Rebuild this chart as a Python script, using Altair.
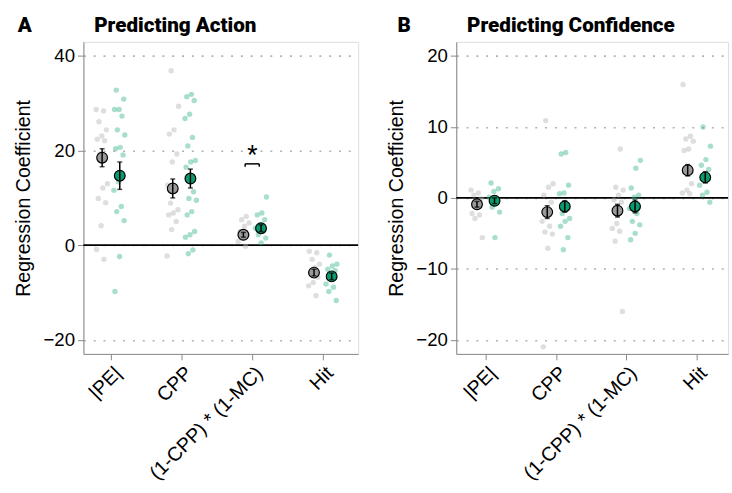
import altair as alt
import pandas as pd

CATS = ["|PE|", "CPP", "(1-CPP) * (1-MC)", "Hit"]
GROUPS = ["grey", "green"]

# ---------- Panel A: Predicting Action (individual coefficients) ----------
A_PE_grey = [28.7, 28.4, 26.1, 24.4, 23.1, 22.4, 22.1, 19.3, 13.0, 12.1, 9.9, 9.0, 4.1, -0.9, -3.0]
A_PE_green = [32.8, 30.9, 28.7, 28.7, 27.3, 24.4, 23.3, 20.7, 20.4, 19.1, 13.4, 11.6, 8.2, 7.1, 5.2, -2.4, -9.8]
A_CPP_grey = [36.9, 29.4, 24.4, 23.5, 19.3, 17.6, 12.7, 11.6, 8.9, 7.5, 6.8, 6.4, 5.0, 3.3, -2.3]
A_CPP_green = [31.9, 31.4, 30.6, 27.7, 26.8, 22.8, 21.0, 17.9, 17.6, 16.5, 11.3, 9.9, 9.5, 7.1, 6.4, 2.9, 2.2, 1.7, -1.0, -1.8]
A_INT_grey = [6.1, 5.4, 4.7, 4.0, 2.9, 2.2, 1.5, 0.8, -0.2]
A_INT_green = [10.2, 6.8, 6.4, 5.4, 4.3, 3.6, 2.9, 2.2, 1.5, 0.5]
A_HIT_grey = [-1.3, -1.6, -3.0, -4.0, -4.7, -5.8, -6.8, -7.9, -8.6, -10.7]
A_HIT_green = [-2.1, -4.0, -4.4, -5.1, -5.4, -6.8, -8.2, -8.9, -9.8, -11.7]
A_MEAN_grey = [18.5, 12.0, 2.2, -5.8]
A_SE_grey = [1.9, 2.0, 0.5, 0.7]
A_MEAN_green = [14.7, 14.1, 3.6, -6.6]
A_SE_green = [2.9, 2.0, 0.7, 0.7]

# ---------- Panel B: Predicting Confidence ----------
B_PE_grey = [1.1, 0.7, 0.4, -0.1, -1.0, -2.2, -2.4, -2.9, -5.6]
B_PE_green = [2.1, 1.3, 0.9, 0.1, -0.6, -1.3, -2.0, -5.6]
B_CPP_grey = [10.9, 2.0, 1.5, 0.4, -0.6, -2.0, -3.3, -4.0, -4.8, -5.1, -7.1, -21.0]
B_CPP_green = [6.4, 6.2, 1.8, 0.7, 0.6, -1.0, -2.2, -2.9, -3.3, -4.0, -5.6, -7.3]
B_INT_grey = [6.9, 1.5, 1.1, 0.4, -0.3, -0.6, -3.6, -4.3, -4.7, -6.1, -16.0]
B_INT_green = [5.3, 4.2, 1.4, 0.4, 0.1, -1.5, -2.2, -3.3, -3.8, -5.0, -5.9]
B_HIT_grey = [16.0, 8.7, 8.3, 8.0, 6.9, 6.7, 2.0, 1.1, 0.7, 0.6]
B_HIT_green = [10.0, 7.3, 5.4, 4.6, 4.0, 3.2, 1.8, 0.8, 0.4, -0.6]
B_MEAN_grey = [-0.9, -2.0, -1.8, 3.9]
B_SE_grey = [0.4, 0.9, 0.9, 0.8]
B_MEAN_green = [-0.4, -1.2, -1.2, 2.9]
B_SE_green = [0.4, 0.8, 0.9, 0.8]

# significance marker (panel A, interaction term)
SIG_CAT = 2
SIG_BRACKET_Y = 17.2
SIG_STAR_Y = 19.6

FONT = "Roboto"
GREY_PT = "#b5b5b5"
GREEN_PT = "#3fb58e"
GREY_MEAN = "#9a9a9a"
GREEN_MEAN = "#0b9a6f"


def build_points(lists):
    rows = []
    for ci, (g_list, gr_list) in enumerate(lists):
        for gi, vals in enumerate((g_list, gr_list)):
            for k, v in enumerate(vals):
                rows.append({"cat": ci, "group": GROUPS[gi], "gi": gi, "k": k, "value": v})
    return pd.DataFrame(rows)


def build_means(mg, sg, mgr, sgr):
    rows = []
    for ci in range(4):
        rows.append({"cat": ci, "group": "grey", "gi": 0, "mean": mg[ci], "lo": mg[ci] - sg[ci], "hi": mg[ci] + sg[ci]})
        rows.append({"cat": ci, "group": "green", "gi": 1, "mean": mgr[ci], "lo": mgr[ci] - sgr[ci], "hi": mgr[ci] + sgr[ci]})
    return pd.DataFrame(rows)


label_expr = "['|PE|','CPP','(1-CPP) * (1-MC)','Hit'][datum.value]"


def panel(pts, means, ydom, yticks, title, letter, xdom, width, letter_x, sig=False):
    xscale = alt.Scale(domain=xdom, nice=False, zero=False)
    yscale = alt.Scale(domain=ydom, nice=False, zero=False)
    xaxis = alt.Axis(values=[0, 1, 2, 3], labelExpr=label_expr, title=None, grid=False,
                     labelAngle=-45, labelAlign="right", labelBaseline="top",
                     labelFontSize=20, labelPadding=3, labelOverlap=False, tickSize=6)
    yaxis = alt.Axis(values=yticks, title="Regression Coefficient", grid=True,
                     gridDash=[2, 8], gridColor="#b0b0b0", gridWidth=1.6,
                     labelFontSize=19, titleFontSize=20, titleFontWeight="normal",
                     titlePadding=10, labelPadding=3, tickSize=6)
    color = alt.Color("group:N", scale=alt.Scale(domain=GROUPS, range=[GREY_PT, GREEN_PT]), legend=None)

    base_pts = alt.Chart(pts).transform_calculate(
        xpos="datum.cat + (datum.gi == 0 ? -0.125 : 0.125) + ((datum.k * 0.6180339 + datum.cat * 0.37 + datum.gi * 0.21) % 1 - 0.5) * 0.17"
    )
    points = base_pts.mark_circle(size=30, opacity=0.45).encode(
        x=alt.X("xpos:Q", scale=xscale, axis=xaxis),
        y=alt.Y("value:Q", scale=yscale, axis=yaxis),
        color=color,
    )
    zero = alt.Chart(pd.DataFrame({"z": [0]})).mark_rule(color="black", strokeWidth=1.8).encode(
        y=alt.Y("z:Q", scale=yscale)
    )
    base_m = alt.Chart(means).transform_calculate(
        xpos="datum.cat + (datum.gi == 0 ? -0.125 : 0.125)"
    )
    mean_pts = base_m.mark_point(filled=True, size=120, stroke="black", strokeWidth=1.2, opacity=1).encode(
        x=alt.X("xpos:Q", scale=xscale),
        y=alt.Y("mean:Q", scale=yscale),
        fill=alt.Fill("group:N", scale=alt.Scale(domain=GROUPS, range=[GREY_MEAN, GREEN_MEAN]), legend=None),
    )
    bars = base_m.mark_rule(color="black", strokeWidth=1.5).encode(
        x=alt.X("xpos:Q", scale=xscale), y=alt.Y("lo:Q", scale=yscale), y2="hi:Q"
    )
    cap_lo = base_m.mark_tick(orient="horizontal", size=5, thickness=1.5, color="black").encode(
        x=alt.X("xpos:Q", scale=xscale), y=alt.Y("lo:Q", scale=yscale)
    )
    cap_hi = base_m.mark_tick(orient="horizontal", size=5, thickness=1.5, color="black").encode(
        x=alt.X("xpos:Q", scale=xscale), y=alt.Y("hi:Q", scale=yscale)
    )
    head = alt.Chart(pd.DataFrame({"t": [letter, title], "px": [letter_x, 11]})).mark_text(
        font=FONT, fontSize=21, fontWeight=900, align="left", baseline="alphabetic", color="black"
    ).encode(x=alt.X("px:Q", scale=None), y=alt.value(-10), text="t:N")

    layers = [zero, points, mean_pts, bars, cap_lo, cap_hi, head]
    if sig:
        br = pd.DataFrame({
            "x1": [SIG_CAT - 0.1, SIG_CAT - 0.1, SIG_CAT + 0.1],
            "x2": [SIG_CAT + 0.1, SIG_CAT - 0.1, SIG_CAT + 0.1],
            "y1": [SIG_BRACKET_Y, SIG_BRACKET_Y, SIG_BRACKET_Y],
            "y2": [SIG_BRACKET_Y, SIG_BRACKET_Y - 0.6, SIG_BRACKET_Y - 0.6],
        })
        bracket = alt.Chart(br).mark_rule(color="black", strokeWidth=1.5).encode(
            x=alt.X("x1:Q", scale=xscale), x2="x2:Q", y=alt.Y("y1:Q", scale=yscale), y2="y2:Q"
        )
        star = alt.Chart(pd.DataFrame({"x": [SIG_CAT], "y": [SIG_STAR_Y], "t": ["*"]})).mark_text(
            font=FONT, fontSize=24, baseline="middle", color="black", dy=3
        ).encode(x=alt.X("x:Q", scale=xscale), y=alt.Y("y:Q", scale=yscale), text="t:N")
        layers += [bracket, star]

    return alt.layer(*layers).properties(width=width, height=318)


ptsA = build_points([(A_PE_grey, A_PE_green), (A_CPP_grey, A_CPP_green),
                     (A_INT_grey, A_INT_green), (A_HIT_grey, A_HIT_green)])
ptsB = build_points([(B_PE_grey, B_PE_green), (B_CPP_grey, B_CPP_green),
                     (B_INT_grey, B_INT_green), (B_HIT_grey, B_HIT_green)])
meansA = build_means(A_MEAN_grey, A_SE_grey, A_MEAN_green, A_SE_green)
meansB = build_means(B_MEAN_grey, B_SE_grey, B_MEAN_green, B_SE_green)

pA = panel(ptsA, meansA, [-23, 43], [-20, 0, 20, 40], "Predicting Action", "A", [-0.39, 3.5], 280, -67, sig=True)
pB = panel(ptsB, meansB, [-22, 22], [-20, -10, 0, 10, 20], "Predicting Confidence", "B", [-0.42, 3.45], 277, -60)

chart = alt.hconcat(pA, pB, spacing=26).resolve_scale(
    x="independent", y="independent", color="independent", fill="independent"
).properties(
    padding={"left": 13, "top": 10, "right": 2, "bottom": 2}
).configure_view(stroke=None).configure_axis(
    domainColor="black", domainWidth=1.5, tickColor="black", tickWidth=1.5,
    labelColor="black", titleColor="black", labelFont=FONT, titleFont=FONT,
).configure(background="white")

chart.save("out.html", embed_options={"renderer": "svg", "actions": False})
